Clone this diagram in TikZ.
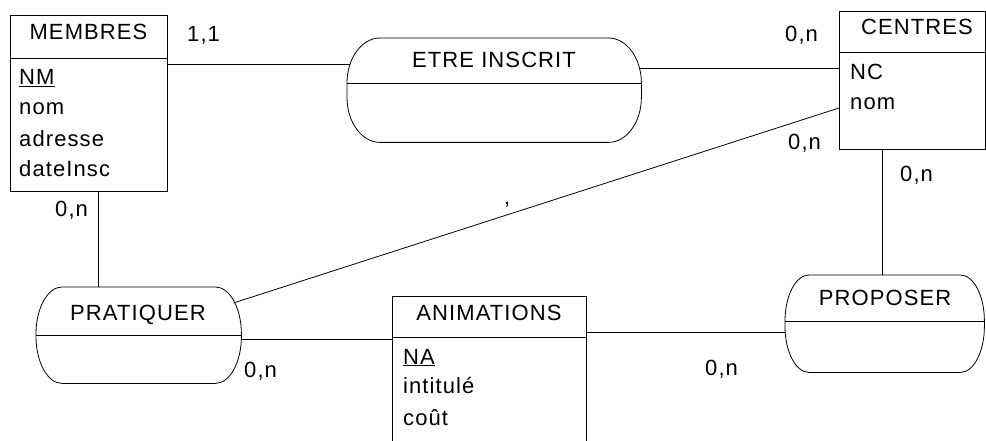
\documentclass[tikz,border=0pt]{standalone}
\usepackage{fontspec}
\setmainfont[LetterSpace=5]{Liberation Sans}
\usetikzlibrary{calc}
\tikzset{
  ln/.style={line width=0.8pt, black},
  txt/.style={inner sep=0pt, font=\fontsize{22}{26}\selectfont},
  box/.style={draw=none, inner sep=0pt, rectangle},
}
\newcommand\assocoutline[3]{%
  \draw[ln] ($(#1.north west)+(#2,0)$) -- ($(#1.north east)+(-#2,0)$)
    .. controls +(0.552*#2,0) and +(0,-0.552*#3) .. ($(#1.north east)+(0,#3)$)
    -- ($(#1.south east)+(0,-#3)$)
    .. controls +(0,0.552*#3) and +(0.552*#2,0) .. ($(#1.south east)+(-#2,0)$)
    -- ($(#1.south west)+(#2,0)$)
    .. controls +(-0.552*#2,0) and +(0,0.552*#3) .. ($(#1.south west)+(0,-#3)$)
    -- ($(#1.north west)+(0,#3)$)
    .. controls +(0,-0.552*#3) and +(-0.552*#2,0) .. ($(#1.north west)+(#2,0)$) -- cycle;
}
\begin{document}
\begin{tikzpicture}[x=1pt,y=-1pt]
\useasboundingbox (0,0) rectangle (986,441);

% ---------- MEMBRES ----------
\node[box, draw, ln, anchor=north west, minimum width=157pt, minimum height=176pt] (membres) at (10,15) {};
\draw[ln] ($(membres.north west)+(0,43)$) -- ($(membres.north east)+(0,43)$);
\node[txt, anchor=base] (membresT) at (88.5,40) {MEMBRES};
\node[txt, anchor=base west] (mNM) at (19,85) {\underline{NM}};
\node[txt, anchor=base west] (mnom) at (19,115) {nom};
\node[txt, anchor=base west] (madr) at (19,147) {adresse};
\node[txt, anchor=base west] (mdate) at (19,177) {dateInsc};

% ---------- CENTRES ----------
\node[box, draw, ln, anchor=north west, minimum width=146pt, minimum height=138pt] (centres) at (839,11) {};
\draw[ln] ($(centres.north west)+(0,41)$) -- ($(centres.north east)+(0,41)$);
\node[txt, anchor=base] (centresT) at (917,35) {CENTRES};
\node[txt, anchor=base west] (cNC) at (850,80) {NC};
\node[txt, anchor=base west] (cnom) at (850,110) {nom};

% ---------- ANIMATIONS ----------
\node[box, anchor=north west, minimum width=194pt, minimum height=150pt] (anim) at (392,296) {};
\draw[ln] (anim.south west) |- (anim.north east) -- (anim.south east);
\draw[ln] ($(anim.north west)+(0,41)$) -- ($(anim.north east)+(0,41)$);
\node[txt, anchor=base] (animT) at (489,320) {ANIMATIONS};
\node[txt, anchor=base west] (aNA) at (403,364) {\underline{NA}};
\node[txt, anchor=base west] (aint) at (403,393) {intitulé};
\node[txt, anchor=base west] (acout) at (403,425) {coût};

% ---------- ETRE INSCRIT ----------
\node[box, anchor=north west, minimum width=294pt, minimum height=104pt] (etre) at (347,38) {};
\assocoutline{etre}{33}{45}
\draw[ln] ($(etre.north west)+(0,45)$) -- ($(etre.north east)+(0,45)$);
\node[txt, anchor=base] (etreT) at (494,68) {ETRE INSCRIT};

% ---------- PRATIQUER ----------
\node[box, anchor=north west, minimum width=205pt, minimum height=96pt] (prat) at (36,287) {};
\assocoutline{prat}{26}{47}
\draw[ln] ($(prat.north west)+(0,48)$) -- ($(prat.north east)+(0,48)$);
\node[txt, anchor=base] (pratT) at (138,320) {PRATIQUER};

% ---------- PROPOSER ----------
\node[box, anchor=north west, minimum width=199pt, minimum height=97pt] (prop) at (785,275) {};
\assocoutline{prop}{24}{46}
\draw[ln] ($(prop.north west)+(0,46)$) -- ($(prop.north east)+(0,46)$);
\node[txt, anchor=base] (propT) at (885,305) {PROPOSER};

% ---------- connectors ----------
\draw[ln] ($(membres.north east)+(0,49)$) -- ($(etre.north west)+(3,26)$);
\draw[ln] ($(etre.north east)+(-2,30)$) -- ($(centres.north west)+(0,57)$);
\draw[ln] ($(membres.south west)+(88,0)$) -- ($(prat.north west)+(62,0)$);
\draw[ln] ($(prat.north east)+(-8,16)$) -- ($(centres.north west)+(0,97)$);
\draw[ln] ($(prat.north east)+(0,52)$) -- ($(anim.north west)+(0,43)$);
\draw[ln] ($(anim.north east)+(0,36)$) -- ($(prop.north west)+(0,57)$);
\draw[ln] ($(centres.south west)+(43,0)$) -- ($(prop.north west)+(97,0)$);

% ---------- cardinalities ----------
\node[txt, anchor=base west] (c11) at (187,42) {1,1};
\node[txt, anchor=base west] (c0n1) at (785,42) {0,n};
\node[txt, anchor=base west] (c0n2) at (788,150) {0,n};
\node[txt, anchor=base west] (c0n3) at (900,182) {0,n};
\node[txt, anchor=base west] (c0n4) at (55,217) {0,n};
\node[txt, anchor=base west] (c0n5) at (244,377) {0,n};
\node[txt, anchor=base west] (c0n6) at (705,375) {0,n};
\node[txt, anchor=north] (apos) at (507,202) {\symbol{"27}};
\end{tikzpicture}
\end{document}
